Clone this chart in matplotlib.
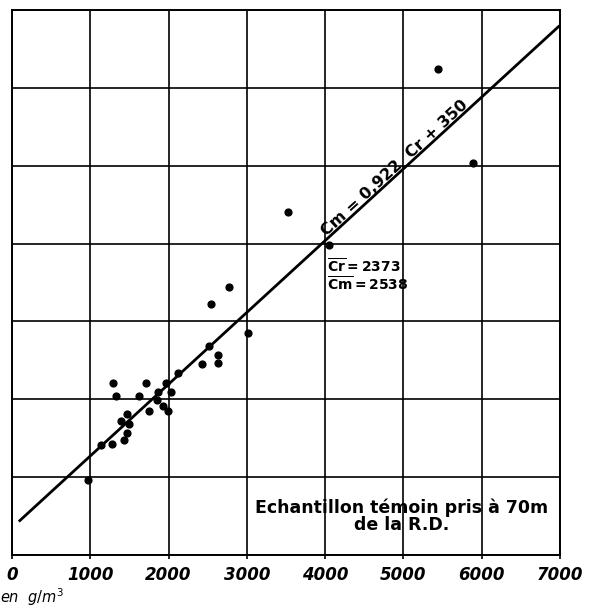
import matplotlib
matplotlib.use("Agg")
import matplotlib.pyplot as plt
import numpy as np

# Cr (abscissa) and Cm (ordinate) in g/m3
cr = [966, 1137, 1273, 1294, 1328, 1392, 1430, 1465, 1465, 1490,
      1618, 1711, 1754, 1848, 1861, 1933, 1967, 1996, 2031, 2116,
      2422, 2520, 2541, 2627, 2627, 2775, 3018, 3521, 4053, 5445, 5883]
cm = [959, 1412, 1425, 2204, 2041, 1716, 1476, 1570, 1810, 1677,
      2041, 2204, 1849, 1990, 2096, 1917, 2204, 1849, 2092, 2332,
      2448, 2687, 3218, 2567, 2461, 3437, 2854, 4403, 3980, 6248, 5036]

slope = 0.922
intercept = 350
line_x = [100, 6980]
xticks = [0, 1000, 2000, 3000, 4000, 5000, 6000, 7000]

plt.rcParams['font.family'] = ['DejaVu Sans']
plt.rcParams['mathtext.fontset'] = 'dejavusans'

fig = plt.figure(figsize=(5.89, 6.12), dpi=100)
ax = fig.add_axes([12/589, 57/612, 548/589, 545/612])

ax.set_xlim(0, 7000)
ax.set_ylim(0, 7000)
ax.set_xticks(xticks)
ax.set_yticks(xticks)
ax.set_xticklabels([str(t) for t in xticks], fontsize=12, fontweight='bold', fontstyle='italic')
ax.set_yticklabels([])
ax.tick_params(axis='x', length=3, width=1.2, pad=5)
ax.tick_params(axis='y', length=0)
ax.grid(True, color='black', linewidth=1.2)
ax.set_axisbelow(True)
for s in ax.spines.values():
    s.set_linewidth(1.4)

lx = np.array(line_x)
ax.plot(lx, slope * lx + intercept, color='black', linewidth=2)
ax.scatter(cr, cm, s=24, color='black', zorder=3)

ang = np.degrees(np.arctan(slope * (545/7000) / (548/7000)))
ax.text(4950, 4900, 'Cm = 0,922  Cr + 350', rotation=ang, rotation_mode='anchor',
        ha='center', va='bottom', fontsize=11.5, fontweight='bold')

ax.text(4020, 3820, r'$\mathbf{\overline{Cr}=2373}$' + '\n' + r'$\mathbf{\overline{Cm}=2538}$',
        fontsize=10, ha='left', va='top', linespacing=0.95)

ax.text(4980, 500, 'Echantillon témoin pris à 70m\nde la R.D.', fontsize=12.5,
        fontweight='bold', ha='center', va='center', linespacing=0.95)

fig.text(0.0, 0.006, r'en  $g/m^3$', fontsize=10.5, fontstyle='italic',
         ha='left', va='bottom')

fig.savefig('out.png', dpi=100)
